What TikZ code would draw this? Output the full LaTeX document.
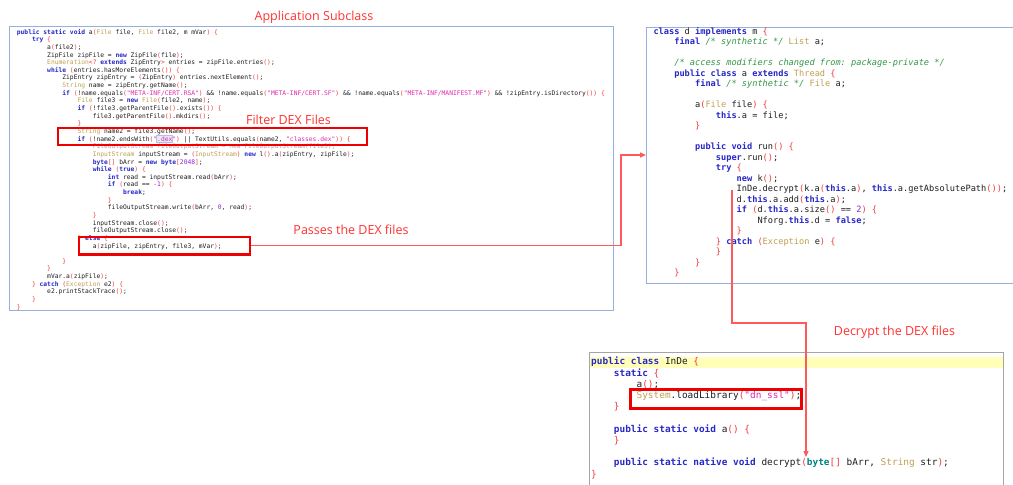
\documentclass[tikz,border=0pt]{standalone}
\usepackage{fontspec}
\setmonofont{DejaVu Sans Mono}
\newfontfamily\labelfont{Open Sans}
\usetikzlibrary{arrows.meta,positioning}

\definecolor{kwblue}{RGB}{40,40,200}
\definecolor{tygold}{RGB}{192,160,80}
\definecolor{stmag}{RGB}{225,40,170}
\definecolor{pnred}{RGB}{240,60,60}
\definecolor{nmpurp}{RGB}{140,40,210}
\definecolor{cmgreen}{RGB}{50,150,70}
\definecolor{codeblack}{RGB}{30,30,30}
\definecolor{fadecol}{RGB}{200,150,162}
\definecolor{byteteal}{RGB}{0,130,130}
\definecolor{panelblue}{RGB}{150,175,220}
\definecolor{panelgrey}{RGB}{165,165,165}
\definecolor{hlred}{RGB}{238,0,0}
\definecolor{flowred}{RGB}{255,90,90}
\definecolor{labelred}{RGB}{255,50,50}
\definecolor{inyellow}{RGB}{255,255,185}
\definecolor{selline}{RGB}{185,190,225}
\definecolor{selfill}{RGB}{232,234,250}

% java highlighting
\newcommand\jk[1]{{\bfseries\color{kwblue}#1}}
\newcommand\jt[1]{{\color{tygold}#1}}
\newcommand\js[1]{{\color{stmag}#1}}
\newcommand\jp[1]{{\color{pnred}#1}}
\newcommand\jn[1]{{\color{nmpurp}#1}}
\newcommand\jc[1]{{\itshape\color{cmgreen}#1}}
\newcommand\jind[1]{\hspace*{#1\dimexpr2.408em\relax}}

\begin{document}
\begin{tikzpicture}[x=1pt,y=-1pt,
    code/.style={anchor=mid west,inner sep=0pt,text=codeblack},
    panel/.style={draw=panelblue,line width=1.4pt,anchor=north west,inner sep=0pt},
    hlbox/.style={draw=hlred,line width=2.4pt,anchor=north west,inner sep=0pt},
    flow/.style={draw=flowred,line width=1.3pt,-{Triangle[length=6pt,width=5pt]}},
    callout/.style={text=labelred,font={\labelfont\fontsize{12.5}{14}\selectfont},inner sep=0pt}]

\fill[white] (0,0) rectangle (1013,485);
\useasboundingbox (0,0) rectangle (1013,485);

% panels
\node[panel,minimum width=604pt,minimum height=284pt] (subpanel) at (9,26) {};
\node[panel,minimum width=380pt,minimum height=256pt] (runpanel) at (646,27) {};
\fill[inyellow] (590,357) rectangle (1003,368);
\node[panel,draw=panelgrey,minimum width=414pt,minimum height=150pt] (indepanel) at (589,352) {};
\draw[selline,fill=selfill] (156.5,135.5) rectangle (172,142.5);

% Application subclass a(...)
\foreach \t [count=\n] in {
  {\jk{public static void} a\jp{(}\jt{File} file, \jt{File} file2, m mVar\jp{)} \jp{\{}},
  {\jind{1}\jk{try} \jp{\{}},
  {\jind{2}a\jp{(}file2\jp{)};},
  {\jind{2}ZipFile zipFile = \jk{new} ZipFile\jp{(}file\jp{)};},
  {\jind{2}\jt{Enumeration}\jp{<?} \jk{extends} ZipEntry\jp{>} entries = zipFile.entries\jp{()};},
  {\jind{2}\jk{while} \jp{(}entries.hasMoreElements\jp{())} \jp{\{}},
  {\jind{3}ZipEntry zipEntry = \jp{(}ZipEntry\jp{)} entries.nextElement\jp{()};},
  {\jind{3}\jt{String} name = zipEntry.getName\jp{()};},
  {\jind{3}\jk{if} \jp{(}!name.equals\jp{(}\js{"META-INF/CERT.RSA"}\jp{)} \&\& !name.equals\jp{(}\js{"META-INF/CERT.SF"}\jp{)} \&\& !name.equals\jp{(}\js{"META-INF/MANIFEST.MF"}\jp{)} \&\& !zipEntry.isDirectory\jp{())} \jp{\{}},
  {\jind{4}\jt{File} file3 = \jk{new} \jt{File}\jp{(}file2, name\jp{)};},
  {\jind{4}\jk{if} \jp{(}!file3.getParentFile\jp{()}.exists\jp{())} \jp{\{}},
  {\jind{5}file3.getParentFile\jp{()}.mkdirs\jp{()};},
  {\jind{4}\jp{\}}},
  {\jind{4}\jt{String} name2 = file3.getName\jp{()};},
  {\jind{4}\jk{if} \jp{(}!name2.endsWith\jp{(}\js{".dex"}\jp{)} || TextUtils.equals\jp{(}name2, \js{"classes.dex"}\jp{))} \jp{\{}},
  {\jind{5}\textcolor{fadecol}{FileOutputStream fileOutputStream = new FileOutputStream(file3);}},
  {\jind{5}\jt{InputStream} inputStream = \jp{(}\jt{InputStream}\jp{)} \jk{new} l\jp{()}.a\jp{(}zipEntry, zipFile\jp{)};},
  {\jind{5}\jk{byte}\jp{[]} bArr = \jk{new} \jk{byte}\jp{[}\jn{2048}\jp{]};},
  {\jind{5}\jk{while} \jp{(}\jk{true}\jp{)} \jp{\{}},
  {\jind{6}\jk{int} read = inputStream.read\jp{(}bArr\jp{)};},
  {\jind{6}\jk{if} \jp{(}read == \jn{-1}\jp{)} \jp{\{}},
  {\jind{7}\jk{break};},
  {\jind{6}\jp{\}}},
  {\jind{6}fileOutputStream.write\jp{(}bArr, \jn{0}, read\jp{)};},
  {\jind{5}\jp{\}}},
  {\jind{5}inputStream.close\jp{()};},
  {\jind{5}fileOutputStream.close\jp{()};},
  {\jind{4}\jp{\}} \jk{else} \jp{\{}},
  {\jind{5}a\jp{(}zipFile, zipEntry, file3, mVar\jp{)};},
  {\jind{4}\jp{\}}},
  {\jind{3}\jp{\}}},
  {\jind{2}\jp{\}}},
  {\jind{2}mVar.a\jp{(}zipFile\jp{)};},
  {\jind{1}\jp{\}} \jk{catch} \jp{(}\jt{Exception} e2\jp{)} \jp{\{}},
  {\jind{2}e2.printStackTrace\jp{()};},
  {\jind{1}\jp{\}}},
  {\jp{\}}}}
  \node[code,font={\fontsize{6.3}{7.6}\selectfont\ttfamily}] (S\n) at (16.7,{32+(\n-1)*7.64}) {\t};

% class d, thread a.run()
\foreach \t [count=\n] in {
  {\jk{class} d \jk{implements} m \jp{\{}},
  {\jind{1}\jk{final} \jc{/* synthetic */} \jt{List} a;},
  {},
  {\jind{1}\jc{/* access modifiers changed from: package-private */}},
  {\jind{1}\jk{public class} a \jk{extends} \jt{Thread} \jp{\{}},
  {\jind{2}\jk{final} \jc{/* synthetic */} \jt{File} a;},
  {},
  {\jind{2}a\jp{(}\jt{File} file\jp{)} \jp{\{}},
  {\jind{3}\jk{this}.a = file;},
  {\jind{2}\jp{\}}},
  {},
  {\jind{2}\jk{public void} run\jp{()} \jp{\{}},
  {\jind{3}\jk{super}.run\jp{()};},
  {\jind{3}\jk{try} \jp{\{}},
  {\jind{4}\jk{new} k\jp{()};},
  {\jind{4}InDe.decrypt\jp{(}k.a\jp{(}\jk{this}.a\jp{)}, \jk{this}.a.getAbsolutePath\jp{())};},
  {\jind{4}d.\jk{this}.a.add\jp{(}\jk{this}.a\jp{)};},
  {\jind{4}\jk{if} \jp{(}d.\jk{this}.a.size\jp{()} == \jn{2}\jp{)} \jp{\{}},
  {\jind{5}Nforg.\jk{this}.d = \jk{false};},
  {\jind{4}\jp{\}}},
  {\jind{3}\jp{\}} \jk{catch} \jp{(}\jt{Exception} e\jp{)} \jp{\{}},
  {\jind{3}\jp{\}}},
  {\jind{2}\jp{\}}},
  {\jind{1}\jp{\}}}}
  \node[code,font={\fontsize{8.64}{10}\selectfont\ttfamily}] (R\n) at (653.3,{32.3+(\n-1)*10.5}) {\t};

% class InDe
\foreach \t [count=\n] in {
  {\jk{public class} InDe \jp{\{}},
  {\jind{1}\jk{static} \jp{\{}},
  {\jind{2}a\jp{()};},
  {\jind{2}\jt{System}.loadLibrary\jp{(}\js{"dn\_ssl"}\jp{)};},
  {\jind{1}\jp{\}}},
  {},
  {\jind{1}\jk{public static void} a\jp{()} \jp{\{}},
  {\jind{1}\jp{\}}},
  {},
  {\jind{1}\jk{public static native void} decrypt\jp{(}{\bfseries\color{byteteal}byte}\jp{[]} bArr, \jt{String} str\jp{)};},
  {\jp{\}}}}
  \node[code,font={\fontsize{9.43}{11}\selectfont\ttfamily}] (B\n) at (591,{362.7+(\n-1)*11.23}) {\t};

% red boxes
\node[hlbox,minimum width=309pt,minimum height=17pt] (filterbox) at (57,127) {};
\node[hlbox,minimum width=171pt,minimum height=17.6pt] (elsebox) at (77.7,235.7) {};
\node[hlbox,minimum width=171pt,minimum height=19pt] (loadbox) at (629.3,388.3) {};

\node[callout] (subtitle) at (314,17) {Application Subclass};
\node[callout] (filterlabel) at (288.5,120) {Filter DEX Files};
\node[callout] (passlabel) at (351,230) {Passes the DEX files};
\node[callout] (decryptlabel) at (894.5,332) {Decrypt the DEX files};

% connectors
\coordinate (passturn) at (621,155);
\draw[flow] (elsebox.east) -| (passturn) -- (passturn -| runpanel.west);

\coordinate (decsrc) at (732,190);
\coordinate (decturn) at (806,323);
\coordinate (dectgt) at (806,457);
\draw[flow] (decsrc) |- (decturn) -- (dectgt);
\end{tikzpicture}
\end{document}
